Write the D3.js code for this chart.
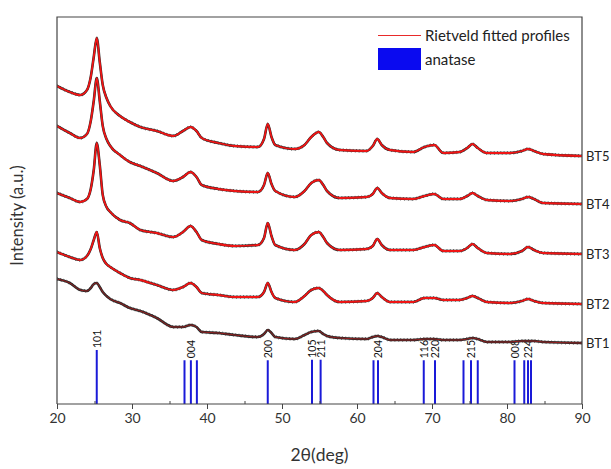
<!DOCTYPE html>
<html>
<head>
<meta charset="utf-8">
<script src="https://cdn.jsdelivr.net/npm/d3@7"></script>
<style>
  body { margin: 0; background: #fff; }
  text { font-family: Lato, "Liberation Sans", sans-serif; }
</style>
</head>
<body>
<div id="chart"></div>
<script>
// ---- data ----
const twoTheta = [20, 21.7, 23.1, 24.0, 24.5, 24.9, 25.3, 25.7, 26.1, 26.6, 27.1, 28.4, 29.7, 31.1, 33.3, 35.5,
  36.8, 37.8, 38.6, 39.3, 41.5, 43.7, 46.8, 47.6, 48.1, 48.6, 49.1, 51.7, 53.0, 53.9, 54.9, 55.5, 56.0, 57.7,
  61.3, 62.1, 62.7, 63.3, 64.4, 67.5, 69.0, 70.3, 71.5, 73.7, 74.7, 75.4, 76.1, 77.3, 80.4, 82.0, 82.8, 83.6, 84.8, 90];

// stacked intensities (a.u., already offset per sample)
const bt1 = [125, 121, 114, 113, 116, 120, 121, 117, 112, 108, 105, 101, 96, 93, 86, 77, 77, 79, 77, 72, 71, 69,
  67, 70, 74, 71, 67, 65, 69, 72, 73, 70, 68, 66, 65, 67, 68, 67, 64, 64, 65, 65, 64, 64, 65, 66, 65, 62, 62, 63, 63, 63, 62, 61];
const bt2 = [152, 147, 144, 148, 155, 164, 172, 156, 146, 140, 137, 131, 126, 124, 119, 114, 117, 121, 117, 111, 109, 107,
  107, 112, 121, 112, 106, 102, 108, 114, 116, 113, 109, 102, 103, 106, 111, 107, 102, 102, 106, 106, 104, 104, 106, 108, 106, 102, 101, 103, 105, 103, 101, 100];
const bt3 = [211, 206, 202, 205, 215, 234, 261, 239, 209, 197, 192, 184, 181, 174, 171, 167, 172, 178, 172, 164, 160, 158,
  159, 166, 181, 168, 159, 154, 160, 169, 172, 167, 161, 154, 155, 158, 165, 159, 154, 154, 157, 159, 153, 153, 156, 160, 156, 151, 150, 153, 157, 154, 151, 150];
const bt4 = [278, 271, 266, 270, 283, 303, 326, 303, 278, 265, 258, 249, 242, 238, 231, 223, 227, 232, 227, 219, 215, 213,
  212, 219, 231, 220, 213, 207, 213, 221, 224, 219, 213, 206, 207, 210, 216, 211, 206, 205, 208, 210, 205, 205, 208, 211, 208, 204, 203, 205, 207, 205, 201, 200];
const bt5 = [318, 312, 309, 314, 327, 347, 366, 342, 319, 306, 298, 288, 282, 277, 273, 268, 273, 277, 273, 266, 261, 258,
  257, 265, 280, 267, 259, 255, 259, 267, 272, 267, 261, 254, 253, 258, 265, 259, 254, 252, 257, 259, 251, 252, 256, 260, 256, 251, 251, 253, 255, 253, 250, 248];

const sampleNames = ["BT1", "BT2", "BT3", "BT4", "BT5"];
const profiles = [bt1, bt2, bt3, bt4, bt5];

// anatase reference reflections
const hklPos = [25.3, 37.0, 37.85, 38.65, 48.1, 54.0, 55.15, 62.2, 62.8, 68.9, 70.4, 74.2, 75.2, 76.1, 81.0, 82.3, 82.8, 83.2];
const hklInt = [100, 81, 81, 81, 81, 82, 82, 81, 81, 81, 81, 81, 81, 81, 81, 81, 81, 81];
const hklLabel = ["101", "", "004", "", "200", "105", "211", "", "204", "116", "220", "", "215", "", "008", "", "224", ""];

const xTicks = [20, 30, 40, 50, 60, 70, 80, 90];
const xMinor = [25, 35, 45, 55, 65, 75, 85];

// ---- layout ----
const W = 611, H = 469;
const L = 57, R = 582, T = 17, B = 404;

const svg = d3.select("#chart").append("svg")
  .attr("width", W).attr("height", H);

const x = d3.scaleLinear().domain([20, 90]).range([L, R]);
const y = d3.scaleLinear().domain([0, 387]).range([B, T]);
const barY = d3.scaleLinear().domain([0, 100]).range([B, 350]);

svg.append("clipPath").attr("id", "plot")
  .append("rect").attr("x", L).attr("y", T).attr("width", R - L).attr("height", B - T);

// ---- reference bars ----
const refs = hklPos.map((p, i) => ({pos: p, inten: hklInt[i], label: hklLabel[i]}));

svg.append("g").selectAll("line")
  .data(refs).enter().append("line")
  .attr("x1", d => x(d.pos)).attr("x2", d => x(d.pos))
  .attr("y1", B).attr("y2", d => barY(d.inten))
  .attr("stroke", "#1a1ad8").attr("stroke-width", 2);

svg.append("g").selectAll("text")
  .data(refs.filter(d => d.label)).enter().append("text")
  .attr("transform", d => `translate(${x(d.pos) + 4},${barY(d.inten) - 2}) rotate(-90)`)
  .style("font-size", "10.5px").style("fill", "#111")
  .text(d => d.label);

// ---- profiles ----
const line = d3.line()
  .x((d, i) => x(twoTheta[i]))
  .y(d => y(d))
  .curve(d3.curveMonotoneX);

const curves = svg.append("g").attr("clip-path", "url(#plot)");

profiles.forEach((p, k) => {
  // observed points (dark, speckled look)
  curves.append("path").datum(p)
    .attr("d", line).attr("fill", "none")
    .attr("stroke", "#2a2a2a").attr("stroke-width", 2.6)
    .attr("stroke-linejoin", "round");
  [-1.3, 1.3].forEach((off, j) => {
    curves.append("path").datum(p)
      .attr("d", line).attr("fill", "none")
      .attr("transform", `translate(0,${off})`)
      .attr("stroke", "#333").attr("stroke-width", 1)
      .attr("stroke-dasharray", j ? "0.8 3.1" : "1 2.3")
      .attr("opacity", 0.8);
  });
  // fitted profile (red)
  curves.append("path").datum(p)
    .attr("d", line).attr("fill", "none")
    .attr("stroke", "#f01414")
    .attr("stroke-width", k === 0 ? 1 : 1.8)
    .attr("opacity", k === 0 ? 0.55 : 1);
});

// sample labels
svg.append("g").selectAll("text")
  .data(profiles).enter().append("text")
  .attr("x", R + 4)
  .attr("y", d => y(d[d.length - 1]))
  .attr("dy", "0.35em")
  .style("font-size", "13px").style("fill", "#222")
  .text((d, i) => sampleNames[i]);

// ---- axes / frame ----
const xAxis = svg.append("g").attr("transform", `translate(0,${B})`)
  .call(d3.axisBottom(x).tickValues(xTicks).tickSize(5).tickSizeOuter(0).tickPadding(4));
xAxis.select(".domain").remove();
xAxis.selectAll("line").attr("stroke", "#444");
xAxis.selectAll("text").style("font-size", "14px").style("fill", "#333")
  .style("font-family", "Lato, 'Liberation Sans', sans-serif");

const xMinorAxis = svg.append("g").attr("transform", `translate(0,${B})`)
  .call(d3.axisBottom(x).tickValues(xMinor).tickSize(-3).tickFormat(""));
xMinorAxis.select(".domain").remove();
xMinorAxis.selectAll("line").attr("stroke", "#444");

svg.append("path")
  .attr("d", `M${L},${B}V${T}H${R}V${B}H${L}`)
  .attr("fill", "none").attr("stroke", "#444").attr("stroke-width", 1.2);

svg.append("text")
  .attr("x", (L + R) / 2).attr("y", 461)
  .attr("text-anchor", "middle")
  .style("font-size", "17.5px").style("fill", "#333")
  .text("2θ(deg)");

svg.append("text")
  .attr("transform", `translate(23,${(T + B) / 2 + 5}) rotate(-90)`)
  .attr("text-anchor", "middle")
  .style("font-size", "16.5px").style("fill", "#333")
  .text("Intensity (a.u.)");

// ---- legend ----
const lg = svg.append("g");
lg.append("line").attr("x1", 378).attr("x2", 421).attr("y1", 35.5).attr("y2", 35.5)
  .attr("stroke", "#e82a2a").attr("stroke-width", 1.2);
lg.append("text").attr("x", 425).attr("y", 41)
  .style("font-size", "15px").style("fill", "#222").text("Rietveld fitted profiles");
lg.append("rect").attr("x", 378).attr("y", 48).attr("width", 43).attr("height", 22)
  .attr("fill", "#0a0af0");
lg.append("text").attr("x", 425).attr("y", 64.5)
  .style("font-size", "15px").style("fill", "#222").text("anatase");
</script>
</body>
</html>
